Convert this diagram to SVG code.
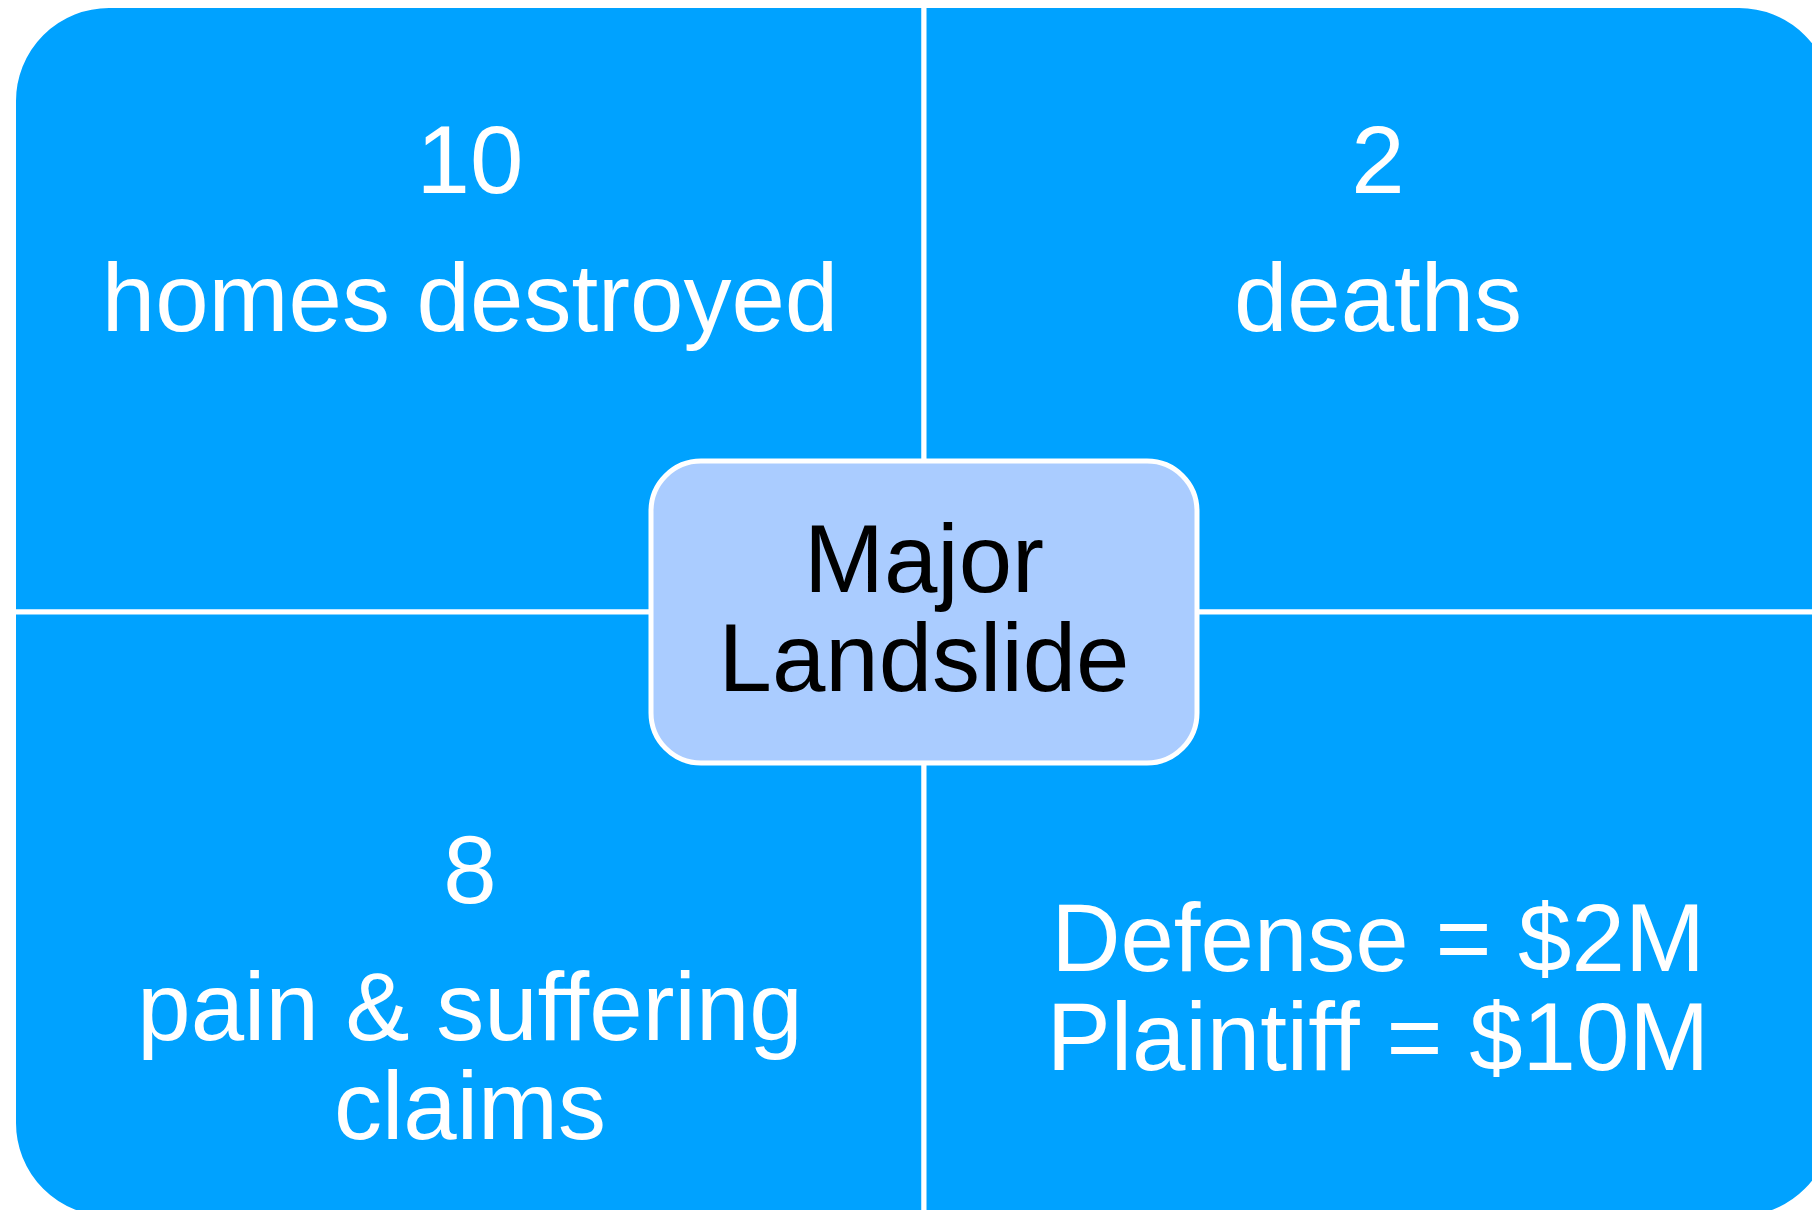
<svg xmlns="http://www.w3.org/2000/svg" width="1812" height="1210" viewBox="0 0 1812 1210">
  <style>
    .quad { fill: #00A2FF; stroke: #FFFFFF; stroke-width: 5; }
    .center { fill: #AACCFF; stroke: #FFFFFF; stroke-width: 5; }
    .t { font-family: "Liberation Sans", Arial, sans-serif; font-size: 96px; text-anchor: middle; }
    .w { fill: #FFFFFF; }
    .k { fill: #000000; }
  </style>
  <rect width="1812" height="1210" fill="#FFFFFF"/>
  <g id="quadrant-top-left">
    <path class="quad" d="M13.5,612 V101 A95.5,95.5 0 0 1 109,5.5 H924 V612 Z"/>
    <text class="t w" x="470" y="193">10</text>
    <text class="t w" x="470" y="331">homes destroyed</text>
  </g>
  <g id="quadrant-top-right">
    <path class="quad" d="M924,5.5 H1739 A95.5,95.5 0 0 1 1834.5,101 V612 H924 Z"/>
    <text class="t w" x="1378" y="193">2</text>
    <text class="t w" x="1378" y="331">deaths</text>
  </g>
  <g id="quadrant-bottom-left">
    <path class="quad" d="M13.5,612 H924 V1218.5 H109 A95.5,95.5 0 0 1 13.5,1123 Z"/>
    <text class="t w" x="470" y="903">8</text>
    <text class="t w" x="470" y="1040">pain &amp; suffering</text>
    <text class="t w" x="470" y="1139">claims</text>
  </g>
  <g id="quadrant-bottom-right">
    <path class="quad" d="M924,612 H1834.5 V1123 A95.5,95.5 0 0 1 1739,1218.5 H924 Z"/>
    <text class="t w" x="1378" y="971">Defense = $2M</text>
    <text class="t w" x="1378" y="1070">Plaintiff = $10M</text>
  </g>
  <g id="connectors"/>
  <g id="center-node">
    <rect class="center" x="651" y="461" width="546" height="302" rx="50" ry="50"/>
    <text class="t k" x="924" y="592">Major</text>
    <text class="t k" x="924" y="691">Landslide</text>
  </g>
</svg>
